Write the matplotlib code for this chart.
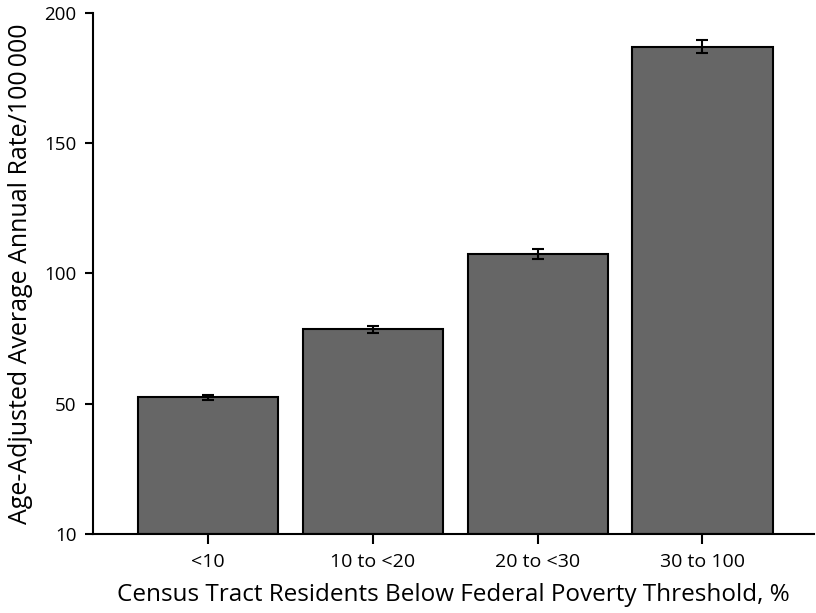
import matplotlib
matplotlib.use("Agg")
import matplotlib.pyplot as plt

categories = ["<10", "10 to <20", "20 to <30", "30 to 100"]
rates = [52.5, 78.5, 107.5, 187.0]
errors = [1.0, 1.5, 1.8, 2.5]
ytick_values = [0, 50, 100, 150, 200]
ytick_labels = ["10", "50", "100", "150", "200"]

plt.rcParams['font.family'] = ['Open Sans', 'DejaVu Sans']

fig = plt.figure(figsize=(8.16, 6.13), dpi=100)
ax = fig.add_axes([0.1136, 0.1289, 0.8840, 0.8499])

x = list(range(len(categories)))
ax.bar(x, rates, width=0.85, color="#666666", edgecolor="black", linewidth=1.5,
       yerr=errors, capsize=4, error_kw=dict(ecolor="black", elinewidth=1.5, capthick=1.5))

ax.set_xlim(-0.70, 3.677)
ax.set_ylim(0, 200)
ax.set_xticks(x)
ax.set_xticklabels(categories, fontsize=14)
ax.set_yticks(ytick_values)
ax.set_yticklabels(ytick_labels, fontsize=13.5)
ax.spines['top'].set_visible(False)
ax.spines['right'].set_visible(False)
for s in ['left', 'bottom']:
    ax.spines[s].set_linewidth(1.5)
ax.tick_params(axis='x', length=7, width=1.5, pad=7)
ax.tick_params(axis='y', length=5.5, width=1.5, pad=6)

ax.set_xlabel("Census Tract Residents Below Federal Poverty Threshold, %", fontsize=17.5, labelpad=8)
ax.set_ylabel("Age-Adjusted Average Annual Rate/100\u2009000", fontsize=18, labelpad=8)

fig.savefig("out.png", dpi=100)
